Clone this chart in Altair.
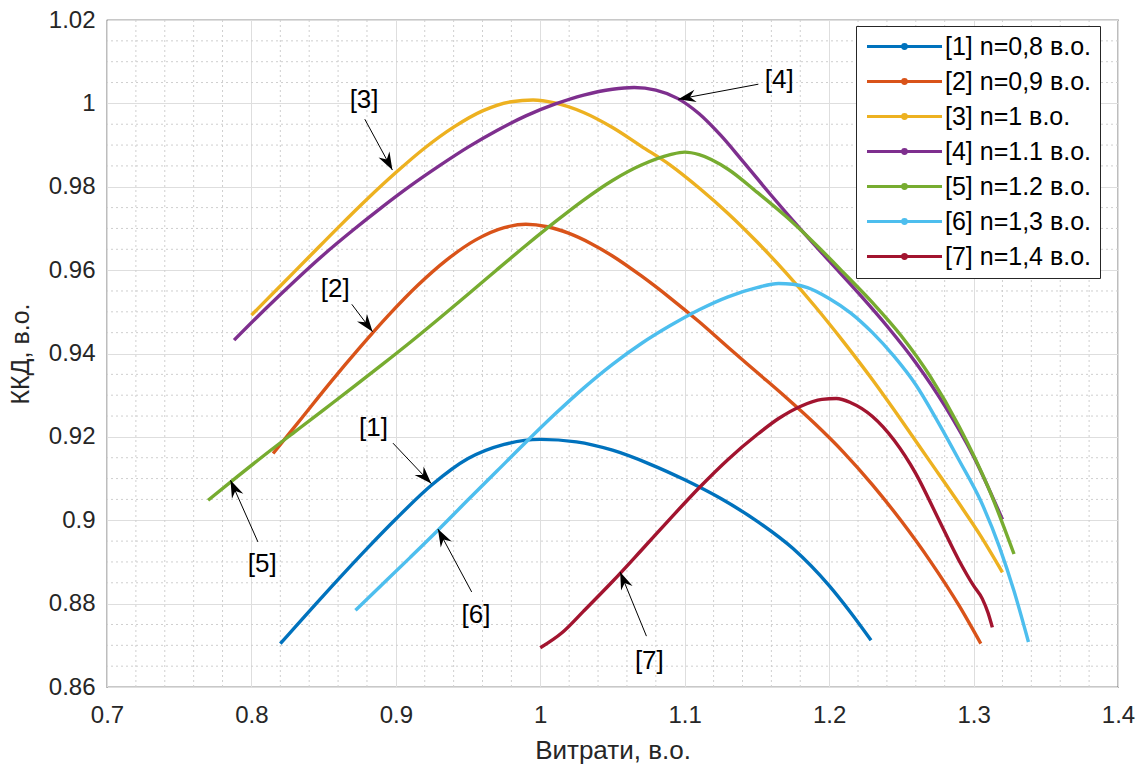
import math
import altair as alt
import pandas as pd

# ---- data ----
labels = ["[1] n=0,8 в.о.", "[2] n=0,9 в.о.", "[3] n=1 в.о.", "[4] n=1.1 в.о.",
          "[5] n=1.2 в.о.", "[6] n=1,3 в.о.", "[7] n=1,4 в.о."]
colors = ["#0072BD", "#D95319", "#EDB120", "#7E2F8E", "#77AC30", "#4DBEEE", "#A2142F"]

x1 = [0.82, 0.85, 0.88, 0.9, 0.925, 0.95, 0.975, 1.0, 1.025, 1.05, 1.075, 1.1, 1.125, 1.15,
      1.175, 1.2, 1.215, 1.229]
y1 = [0.8704, 0.882, 0.8932, 0.9003, 0.9085, 0.9148, 0.9182, 0.9194, 0.9188, 0.9168, 0.9136,
      0.9097, 0.9052, 0.8998, 0.8932, 0.8843, 0.8778, 0.8712]

x2 = [0.815, 0.835, 0.855, 0.875, 0.895, 0.915, 0.935, 0.955, 0.975, 0.99, 1.005, 1.02, 1.035,
      1.05, 1.07, 1.09, 1.11, 1.13, 1.15, 1.17, 1.19, 1.21, 1.23, 1.25, 1.27, 1.29, 1.305]
y2 = [0.916, 0.9246, 0.9332, 0.9414, 0.9492, 0.9563, 0.9624, 0.9672, 0.9702, 0.971, 0.9704,
      0.9688, 0.9664, 0.9634, 0.9586, 0.9533, 0.9476, 0.9415, 0.9355, 0.9295, 0.9232, 0.9163,
      0.9085, 0.8998, 0.8902, 0.8795, 0.8704]

x3 = [0.8, 0.82, 0.84, 0.86, 0.88, 0.9, 0.92, 0.94, 0.96, 0.98, 0.995, 1.01, 1.03, 1.05, 1.07,
      1.09, 1.11, 1.13, 1.15, 1.17, 1.19, 1.21, 1.23, 1.25, 1.27, 1.29, 1.305, 1.32]
y3 = [0.9492, 0.9562, 0.9632, 0.9702, 0.977, 0.9834, 0.9893, 0.9943, 0.9982, 1.0004, 1.0008,
      1.0001, 0.9978, 0.9942, 0.9897, 0.9852, 0.9797, 0.9736, 0.9668, 0.9594, 0.9514, 0.9428,
      0.9337, 0.924, 0.914, 0.904, 0.8962, 0.8875]

x4 = [0.788, 0.81, 0.83, 0.85, 0.87, 0.89, 0.91, 0.93, 0.95, 0.97, 0.99, 1.01, 1.03, 1.05, 1.065,
      1.08, 1.095, 1.11, 1.125, 1.14, 1.16, 1.18, 1.2, 1.22, 1.24, 1.26, 1.28, 1.3, 1.32]
y4 = [0.9432, 0.9508, 0.9574, 0.9637, 0.9695, 0.975, 0.9802, 0.985, 0.9895, 0.9935, 0.997,
      0.9998, 1.002, 1.0034, 1.0038, 1.0032, 1.0012, 0.9975, 0.9923, 0.9862, 0.9779, 0.9699,
      0.9622, 0.9546, 0.9466, 0.9378, 0.9275, 0.9153, 0.9002]

x5 = [0.77, 0.79, 0.81, 0.83, 0.85, 0.87, 0.89, 0.91, 0.93, 0.95, 0.97, 0.99, 1.01, 1.03, 1.05,
      1.07, 1.09, 1.1, 1.11, 1.13, 1.15, 1.17, 1.19, 1.21, 1.23, 1.25, 1.27, 1.29, 1.31, 1.328]
y5 = [0.9048, 0.9104, 0.9159, 0.9212, 0.9265, 0.9318, 0.9372, 0.9427, 0.9484, 0.9542, 0.9601,
      0.9659, 0.9715, 0.9768, 0.9815, 0.9852, 0.9877, 0.9883, 0.9877, 0.9842, 0.9787, 0.9729,
      0.9664, 0.9594, 0.9522, 0.9442, 0.9345, 0.9225, 0.908, 0.8919]

x6 = [0.872, 0.89, 0.91, 0.93, 0.95, 0.97, 0.99, 1.01, 1.03, 1.05, 1.07, 1.09, 1.11, 1.13, 1.15,
      1.165, 1.175, 1.185, 1.2, 1.215, 1.23, 1.245, 1.26, 1.275, 1.29, 1.305, 1.318, 1.328, 1.338]
y6 = [0.8784, 0.8844, 0.8911, 0.8979, 0.9049, 0.9118, 0.9187, 0.9254, 0.9317, 0.9374, 0.9424,
      0.9467, 0.9505, 0.9536, 0.9558, 0.9568, 0.9566, 0.9558, 0.9532, 0.9497, 0.945, 0.9393,
      0.9325, 0.9238, 0.9144, 0.9046, 0.8935, 0.883, 0.8708]

x7 = [1.0, 1.015, 1.03, 1.05, 1.07, 1.09, 1.11, 1.13, 1.15, 1.165, 1.18, 1.195, 1.205, 1.215,
      1.23, 1.245, 1.26, 1.275, 1.29, 1.3, 1.306, 1.31, 1.313]
y7 = [0.8694, 0.873, 0.8782, 0.8853, 0.8928, 0.9004, 0.9078, 0.9146, 0.9205, 0.9244, 0.9273,
      0.929, 0.9292, 0.9282, 0.9249, 0.9192, 0.9112, 0.9008, 0.8903, 0.8843, 0.8812, 0.8778, 0.8743]

# annotations: label text, label position, arrow start, arrow tip
ann_text = ["[1]", "[2]", "[3]", "[4]", "[5]", "[6]", "[7]"]
ann_lx = [0.8845, 0.858, 0.878, 1.1655, 0.8075, 0.9555, 1.0755]
ann_ly = [0.9222, 0.9555, 1.0008, 1.0056, 0.8895, 0.8772, 0.8662]
ann_sx = [0.898, 0.8695, 0.8785, 1.151, 0.8045, 0.9525, 1.0735]
ann_sy = [0.9185, 0.9518, 0.9962, 1.0046, 0.8948, 0.8828, 0.8722]
ann_tx = [0.9245, 0.8839, 0.8976, 1.0955, 0.7855, 0.9291, 1.0553]
ann_ty = [0.9088, 0.9452, 0.984, 1.001, 0.9096, 0.8979, 0.8876]

x_ticks = [0.7, 0.8, 0.9, 1.0, 1.1, 1.2, 1.3, 1.4]
y_ticks = [0.86, 0.88, 0.9, 0.92, 0.94, 0.96, 0.98, 1.0, 1.02]
x_minor = [0.72, 0.74, 0.76, 0.78, 0.82, 0.84, 0.86, 0.88, 0.92, 0.94, 0.96, 0.98,
           1.02, 1.04, 1.06, 1.08, 1.12, 1.14, 1.16, 1.18, 1.22, 1.24, 1.26, 1.28,
           1.32, 1.34, 1.36, 1.38]
y_minor = [0.865, 0.87, 0.875, 0.885, 0.89, 0.895, 0.905, 0.91, 0.915, 0.925, 0.93, 0.935,
           0.945, 0.95, 0.955, 0.965, 0.97, 0.975, 0.985, 0.99, 0.995, 1.005, 1.01, 1.015]

# ---- layout / style ----
W, H = 1011, 667
FONT = "Liberation Sans"
TXT = "#262626"

series_x = [x1, x2, x3, x4, x5, x6, x7]
series_y = [y1, y2, y3, y4, y5, y6, y7]
rows = []
for lab, xs_, ys_ in zip(labels, series_x, series_y):
    for i, (a, b) in enumerate(zip(xs_, ys_)):
        rows.append({"series": lab, "x": a, "y": b, "order": i})
df = pd.DataFrame(rows)

pxx = W / 0.7
pxy = H / 0.16
angles = []
for sx, sy, tx, ty in zip(ann_sx, ann_sy, ann_tx, ann_ty):
    dx = (tx - sx) * pxx
    dy = -(ty - sy) * pxy
    angles.append(math.degrees(math.atan2(dx, -dy)) % 360)
ann = pd.DataFrame({"t": ann_text, "lx": ann_lx, "ly": ann_ly, "sx": ann_sx, "sy": ann_sy,
                    "tx": ann_tx, "ty": ann_ty, "ang": angles})

xs = alt.Scale(domain=[0.7, 1.4], nice=False, zero=False)
ys = alt.Scale(domain=[0.86, 1.02], nice=False, zero=False)

xaxis = alt.Axis(values=x_ticks, format="~g", title="Витрати, в.о.", grid=True,
                 gridColor="#dedede", gridWidth=1, domain=False, ticks=False,
                 labelFont=FONT, labelFontSize=24, labelColor=TXT, labelPadding=16,
                 titleFont=FONT, titleFontSize=26, titleFontWeight="normal", titleColor=TXT,
                 titlePadding=10, labelFlush=False)
yaxis = alt.Axis(values=y_ticks, format="~g", title="ККД, в.о.", grid=True,
                 gridColor="#dedede", gridWidth=1, domain=False, ticks=False,
                 labelFont=FONT, labelFontSize=24, labelColor=TXT, labelPadding=12,
                 titleFont=FONT, titleFontSize=25, titleFontWeight="normal", titleColor=TXT,
                 titlePadding=15, labelFlush=False)

minor_x = alt.Chart(pd.DataFrame({"v": x_minor})).mark_rule(
    color="#cfcfcf", strokeWidth=1, strokeDash=[2, 3]).encode(x=alt.X("v:Q", scale=xs, axis=xaxis))
minor_y = alt.Chart(pd.DataFrame({"v": y_minor})).mark_rule(
    color="#cfcfcf", strokeWidth=1, strokeDash=[2, 3]).encode(y=alt.Y("v:Q", scale=ys, axis=yaxis))

legend = alt.Legend(
    title=None, orient="none", legendX=749, legendY=6,
    symbolType="M-4,0H4M-0.2,0a0.2,0.2 0 1,0 0.4,0a0.2,0.2 0 1,0 -0.4,0",
    symbolSize=352, symbolStrokeWidth=3, symbolOffset=28,
    labelFont=FONT, labelFontSize=25, labelColor="#000000", labelOffset=28, labelLimit=400,
    rowPadding=9, padding=8, strokeColor=TXT, fillColor="white", cornerRadius=0)

lines = alt.Chart(df).mark_line(strokeWidth=3.4, interpolate="monotone").encode(
    x=alt.X("x:Q", scale=xs, axis=xaxis),
    y=alt.Y("y:Q", scale=ys, axis=yaxis),
    color=alt.Color("series:N", scale=alt.Scale(domain=labels, range=colors), legend=legend),
    order="order:Q",
    detail="series:N",
)

arrow_lines = alt.Chart(ann).mark_rule(color="black", strokeWidth=1).encode(
    x=alt.X("sx:Q", scale=xs, axis=xaxis), y=alt.Y("sy:Q", scale=ys, axis=yaxis), x2="tx:Q", y2="ty:Q")
heads = alt.Chart(ann).mark_point(
    shape="M0,0L0.6,1.7L0,1.15L-0.6,1.7Z", filled=True, color="black", opacity=1, size=430
).encode(x=alt.X("tx:Q", scale=xs, axis=xaxis), y=alt.Y("ty:Q", scale=ys, axis=yaxis),
         angle=alt.Angle("ang:Q", scale=None))
texts = alt.Chart(ann).mark_text(font=FONT, fontSize=26, color="black").encode(
    x=alt.X("lx:Q", scale=xs, axis=xaxis), y=alt.Y("ly:Q", scale=ys, axis=yaxis), text="t:N")

chart = alt.layer(minor_x, minor_y, lines, arrow_lines, heads, texts).properties(
    width=W, height=H,
    autosize=alt.AutoSizeParams(type="none"),
    padding={"left": 107, "top": 20, "right": 28, "bottom": 80},
    background="white",
).configure_view(stroke=TXT, strokeWidth=1.2)

chart.save("out.html", embed_options={"renderer": "svg", "actions": False})
